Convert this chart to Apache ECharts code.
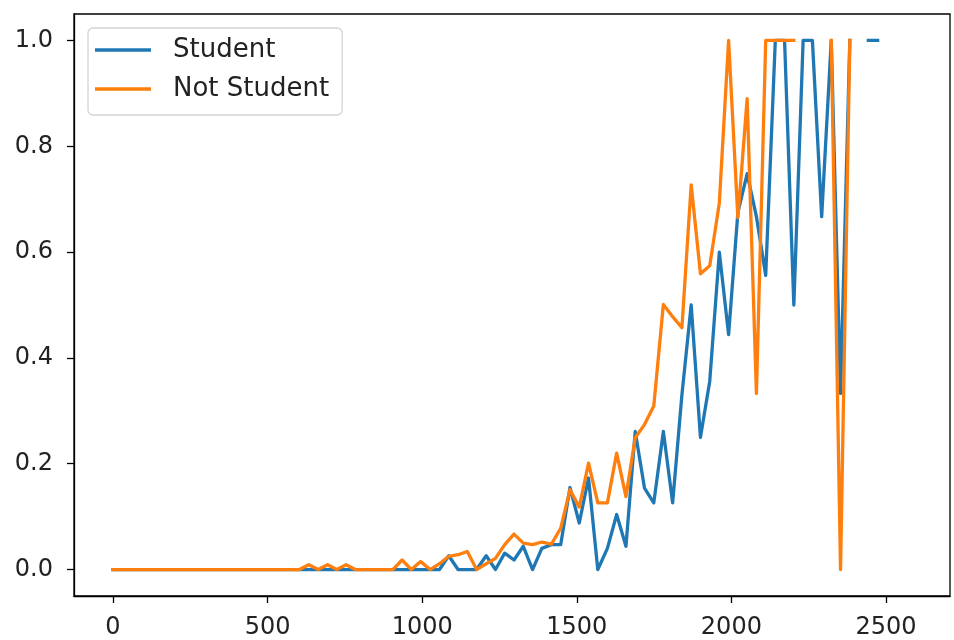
<!DOCTYPE html>
<html><head><meta charset="utf-8">
<script src="https://cdn.jsdelivr.net/npm/echarts@6/dist/echarts.min.js"></script>
<style>html,body{margin:0;padding:0;background:#fff}#c{width:954px;height:640px}</style>
</head><body><div id="c"></div>
<script>
// balance bin (left edge)
const balance = [
  0,30,60,90,121,151,181,211,241,271,
  302,332,362,392,422,452,483,513,543,573,
  603,633,664,694,724,754,784,814,845,875,
  905,935,965,995,1026,1056,1086,1116,1146,1176,
  1207,1237,1267,1297,1327,1357,1387,1418,1448,1478,
  1508,1538,1568,1599,1629,1659,1689,1719,1749,1780,
  1810,1840,1870,1900,1930,1961,1991,2021,2051,2081,
  2111,2142,2172,2202,2232,2262,2292,2323,2353,2383,
  2413,2443,2473
];
const student = [
  0,0,0,0,0,0,0,0,0,0,
  0,0,0,0,0,0,0,0,0,0,
  0,0,0,0,0,0,0,0,0,0,
  0,0,0,0,0,0,0.026,0,0,0,
  0.026,0,0.031,0.018,0.044,0,0.04,0.047,0.047,0.155,
  0.088,0.173,0,0.04,0.104,0.044,0.261,0.154,0.126,0.261,
  0.126,0.33,0.5,0.25,0.356,0.6,0.444,0.675,0.748,0.667,
  0.556,1,1,0.5,1,1,0.667,1,0.333,1,
  null,1,1
];
const notStudent = [
  0,0,0,0,0,0,0,0,0,0,
  0,0,0,0,0,0,0,0,0,0,
  0,0.009,0,0.009,0,0.009,0,0,0,0,
  0,0.018,0,0.015,0,0.011,0.025,0.028,0.034,0,
  0.011,0.021,0.047,0.067,0.05,0.047,0.052,0.048,0.078,0.151,
  0.118,0.201,0.126,0.126,0.22,0.138,0.249,0.274,0.309,0.501,
  0.478,0.457,0.727,0.559,0.574,0.693,1,0.665,0.89,0.333,
  1,1,1,1,null,null,null,1,0,1,
  null,null,null
];
const seriesNames = ['Student', 'Not Student'];
const xTicks = [0, 500, 1000, 1500, 2000, 2500];
const yTicks = [0, 0.2, 0.4, 0.6, 0.8, 1.0];

const pairs = (ys) => balance.map((x, i) => [x, ys[i] === null ? '-' : ys[i]]);
const FONT = 'DejaVu Sans';
const chart = echarts.init(document.getElementById('c'), null, {renderer: 'canvas'});
chart.setOption({
  animation: false,
  backgroundColor: '#fff',
  grid: {left: 74, top: 14, width: 876, height: 582, show: true, borderColor: '#000', borderWidth: 1.3, backgroundColor: 'transparent'},
  xAxis: {
    type: 'value', min: -126, max: 2707,
    splitLine: {show: false},
    axisLine: {show: true, onZero: false, lineStyle: {color: '#000', width: 1.3}},
    axisTick: {show: true, length: 7, customValues: xTicks, lineStyle: {color: '#000', width: 1.3}},
    axisLabel: {customValues: xTicks, fontSize: 24, fontFamily: FONT, color: '#222', margin: 20,
      formatter: v => String(Math.round(v))}
  },
  yAxis: {
    type: 'value', min: -0.05, max: 1.05,
    splitLine: {show: false},
    axisLine: {show: true, onZero: false, lineStyle: {color: '#000', width: 1.3}},
    axisTick: {show: true, length: 7, customValues: yTicks, lineStyle: {color: '#000', width: 1.3}},
    axisLabel: {customValues: yTicks, fontSize: 24, fontFamily: FONT, color: '#222', margin: 21,
      formatter: v => Number(v).toFixed(1)}
  },
  legend: {
    orient: 'vertical', left: 88, top: 28,
    icon: 'rect', itemWidth: 56, itemHeight: 3.3, itemGap: 13,
    padding: [9, 13, 13, 7],
    backgroundColor: 'rgba(255,255,255,0.8)', borderColor: '#d4d4d4', borderWidth: 1.3, borderRadius: 5,
    textStyle: {fontSize: 26, fontFamily: FONT, color: '#222', lineHeight: 26, padding: [0, 0, 0, 17]},
    data: seriesNames
  },
  series: [
    {name: seriesNames[0], type: 'line', data: pairs(student), showSymbol: false, symbol: 'none',
     color: '#1f77b4', lineStyle: {width: 3.3, color: '#1f77b4', cap: 'square', join: 'round'}},
    {name: seriesNames[1], type: 'line', data: pairs(notStudent), showSymbol: false, symbol: 'none',
     color: '#ff7f0e', lineStyle: {width: 3.3, color: '#ff7f0e', cap: 'square', join: 'round'}}
  ]
});
</script>
</body></html>
